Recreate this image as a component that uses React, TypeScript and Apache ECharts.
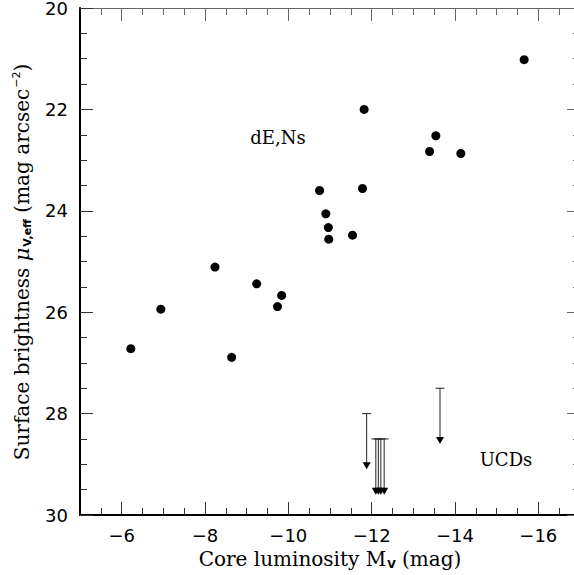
import React, { useEffect, useRef } from "react";
import * as echarts from "echarts";

// dE,N galaxies: core luminosity M_V (mag) and surface brightness mu_V,eff
const dEnMag = [-15.66, -11.82, -13.54, -13.39, -14.14, -10.75, -11.78, -10.90, -10.96, -10.97, -11.54, -8.24, -9.24, -9.84, -9.74, -6.94, -6.22, -8.64];
const dEnMu = [21.02, 22.0, 22.52, 22.83, 22.87, 23.60, 23.56, 24.06, 24.33, 24.56, 24.48, 25.11, 25.44, 25.67, 25.89, 25.94, 26.72, 26.89];

// UCDs: upper limits (cap value) with arrow tip
const ucdMag = [-11.88, -12.10, -12.16, -12.22, -12.30, -13.64];
const ucdMu = [28.0, 28.5, 28.5, 28.5, 28.5, 27.5];
const ucdTip = [29.1, 29.6, 29.6, 29.6, 29.6, 28.6];

// axis ticks
const xMajor = [-6, -8, -10, -12, -14, -16];
const xMin = -17;
const xMax = -5;
const yMin = 20;
const yMax = 30;

const xMinor: number[] = [];
for (let v = xMax - 0.5; v > xMin; v -= 0.5) {
  if (Math.abs(v % 2) > 1e-6) xMinor.push(+v.toFixed(1));
}

const fmt = (v: number) => String(v).replace("-", "\u2212");

const SANS = "DejaVu Sans";
const SERIF = "DejaVu Serif";

export default function App() {
  const ref = useRef<HTMLDivElement>(null);
  useEffect(() => {
    if (!ref.current) return;
    const chart = echarts.init(ref.current, null, { renderer: "svg" });

    const baseX = (pos: "top" | "bottom", values: number[], len: number, labels: boolean, line: any) => ({
      type: "value",
      position: pos,
      min: xMin,
      max: xMax,
      inverse: true,
      gridIndex: 0,
      axisLine: line ? { show: true, onZero: false, lineStyle: line } : { show: false },
      axisTick: {
        show: true,
        inside: true,
        length: len,
        customValues: values,
        lineStyle: { color: pos === "bottom" ? "#333" : "#666", width: 1 },
      },
      axisLabel: labels
        ? {
            show: true,
            customValues: values,
            formatter: (v: number) => fmt(v),
            fontFamily: SANS,
            fontSize: 18,
            color: "#000",
            margin: 11,
          }
        : { show: false },
      splitLine: { show: false },
      minorTick: { show: false },
    });

    const baseY = (pos: "left" | "right", labels: boolean, line: any) => ({
      type: "value",
      position: pos,
      min: yMin,
      max: yMax,
      interval: 2,
      inverse: true,
      gridIndex: 0,
      axisLine: { show: true, onZero: false, lineStyle: line },
      axisTick: {
        show: true,
        inside: true,
        length: 13,
        lineStyle: { color: pos === "left" ? "#333" : "#666", width: 1 },
      },
      minorTick: {
        show: true,
        splitNumber: 4,
        length: 7,
        lineStyle: { color: pos === "left" ? "#333" : "#666", width: 1 },
      },
      axisLabel: labels
        ? {
            show: true,
            fontFamily: SANS,
            fontSize: 18,
            lineHeight: 14,
            padding: [4, 0, 0, 0],
            color: "#000",
            margin: 12,
          }
        : { show: false },
      splitLine: { show: false },
      minorSplitLine: { show: false },
    });

    const option: any = {
      animation: false,
      backgroundColor: "#fff",
      grid: {
        left: 80,
        right: -6,
        top: 8,
        bottom: 60,
        containLabel: false,
        outerBoundsMode: "none",
      },
      xAxis: [
        baseX("bottom", xMajor, 13, true, { color: "#000", width: 2 }),
        baseX("bottom", xMinor, 7, false, null),
        baseX("top", xMajor, 13, false, { color: "#666", width: 1 }),
        baseX("top", xMinor, 7, false, null),
      ],
      yAxis: [
        baseY("left", true, { color: "#000", width: 2 }),
        baseY("right", false, { color: "#666", width: 1 }),
      ],
      series: [
        {
          type: "scatter",
          xAxisIndex: 0,
          yAxisIndex: 0,
          symbol: "circle",
          symbolSize: 9,
          itemStyle: { color: "#000", opacity: 1 },
          data: dEnMag.map((m, i) => [m, dEnMu[i]]),
        },
        {
          type: "custom",
          xAxisIndex: 0,
          yAxisIndex: 0,
          data: ucdMag.map((m, i) => [m, ucdMu[i], ucdTip[i]]),
          renderItem: (params: any, api: any) => {
            const x = api.value(0);
            const top = api.coord([x, api.value(1)]);
            const tip = api.coord([x, api.value(2)]);
            const h = 7;
            const w = 4;
            const stroke = "#222";
            return {
              type: "group",
              children: [
                {
                  type: "line",
                  shape: { x1: top[0] - 4.5, y1: top[1], x2: top[0] + 4.5, y2: top[1] },
                  style: { stroke, lineWidth: 1 },
                },
                {
                  type: "line",
                  shape: { x1: top[0], y1: top[1], x2: tip[0], y2: tip[1] - h + 1 },
                  style: { stroke, lineWidth: 1 },
                },
                {
                  type: "polygon",
                  shape: {
                    points: [
                      [tip[0] - w, tip[1] - h],
                      [tip[0] + w, tip[1] - h],
                      [tip[0], tip[1]],
                    ],
                  },
                  style: { fill: "#000" },
                },
              ],
            };
          },
        },
      ],
      graphic: [
        {
          type: "text",
          x: 330,
          y: 559,
          style: {
            text: "{a|Core luminosity M}{s|V}{a| (mag)}",
            align: "center",
            verticalAlign: "middle",
            fill: "#000",
            rich: {
              a: { fontFamily: SERIF, fontSize: 20, fill: "#000" },
              s: { fontFamily: SANS, fontSize: 11, fontWeight: "bold", fill: "#000", padding: [10, 0, 0, 1] },
            },
          },
        },
        {
          type: "text",
          x: 22,
          y: 262,
          rotation: Math.PI / 2,
          style: {
            text: "{a|Surface brightness }{m|\u03bc}{s|V,eff}{a| (mag arcsec}{p|\u22122}{a|)}",
            align: "center",
            verticalAlign: "middle",
            fill: "#000",
            rich: {
              a: { fontFamily: SERIF, fontSize: 20, fill: "#000" },
              m: { fontFamily: SERIF, fontStyle: "italic", fontSize: 21, fill: "#000" },
              s: { fontFamily: SANS, fontSize: 11, fontWeight: "bold", fill: "#000", padding: [10, 0, 0, 1] },
              p: { fontFamily: SANS, fontSize: 11, fill: "#000", padding: [0, 0, 12, 1] },
            },
          },
        },
        {
          type: "text",
          x: 278,
          y: 137,
          style: {
            text: "dE,Ns",
            align: "center",
            verticalAlign: "middle",
            fontFamily: SERIF,
            fontSize: 18,
            fill: "#000",
          },
        },
        {
          type: "text",
          x: 506,
          y: 459,
          style: {
            text: "UCDs",
            align: "center",
            verticalAlign: "middle",
            fontFamily: SERIF,
            fontSize: 18,
            fill: "#000",
          },
        },
      ],
    };

    chart.setOption(option);
    return () => chart.dispose();
  }, []);

  return (
    <div
      ref={ref}
      style={{ position: "fixed", left: 0, top: 0, width: 574, height: 575, background: "#fff" }}
    />
  );
}
